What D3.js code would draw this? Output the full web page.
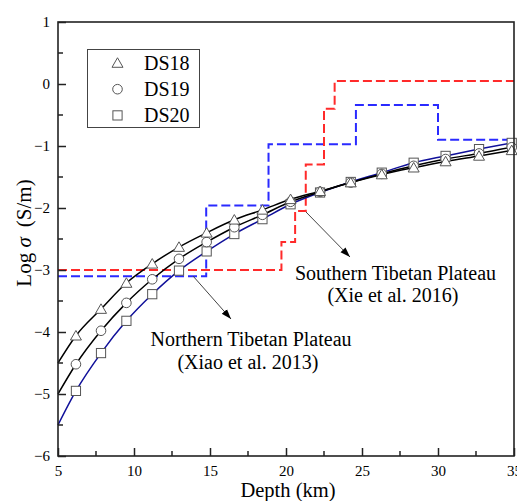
<!DOCTYPE html>
<html><head><meta charset="utf-8">
<script src="https://cdn.jsdelivr.net/npm/d3@7"></script>
<style>
html,body{margin:0;padding:0;background:#fff;}
svg{display:block;font-family:"Liberation Serif","Times New Roman",serif;}
</style></head>
<body>
<div id="chart"></div>
<script>
// ---- data ----
const depths = [5, 6.18, 7.83, 9.5, 11.2, 12.96, 14.78, 16.6, 18.45, 20.3, 22.24, 24.26, 26.3, 28.4, 30.5, 32.7, 34.85];
const ds18 = [-4.5, -4.06, -3.63, -3.21, -2.90, -2.63, -2.40, -2.19, -2.03, -1.86, -1.73, -1.59, -1.46, -1.35, -1.25, -1.16, -1.07];
const ds19 = [-5.0, -4.52, -3.98, -3.53, -3.15, -2.82, -2.55, -2.31, -2.11, -1.90, -1.74, -1.59, -1.45, -1.32, -1.21, -1.12, -1.02];
const ds20 = [-5.5, -4.95, -4.34, -3.82, -3.39, -3.01, -2.70, -2.42, -2.18, -1.94, -1.75, -1.58, -1.43, -1.27, -1.16, -1.05, -0.95];
const seriesNames = ["DS18", "DS19", "DS20"];
// Step profiles (depth where a layer starts, log conductivity)
const southDepth = [5, 19.7, 20.6, 21.3, 22.5, 23.2, 35];
const southValue = [-3.0, -2.55, -2.05, -1.3, -0.4, 0.05, 0.05];
const northDepth = [5, 14.75, 18.85, 24.6, 30.0, 35];
const northValue = [-3.1, -1.96, -0.97, -0.34, -0.9, -0.9];
const xTicks = [5, 10, 15, 20, 25, 30, 35];
const yTicks = [1, 0, -1, -2, -3, -4, -5, -6];

// ---- layout ----
const W = 517, H = 501;
const L = 58, R = 514, T = 22, B = 456;
const x = d3.scaleLinear().domain([5, 35]).range([L, R]);
const y = d3.scaleLinear().domain([-6, 1]).range([B, T]);

const svg = d3.select("#chart").append("svg").attr("width", W).attr("height", H);
const defs = svg.append("defs");
defs.append("marker").attr("id", "arr").attr("viewBox", "0 0 10 10")
  .attr("refX", 10).attr("refY", 5).attr("markerWidth", 10).attr("markerHeight", 10)
  .attr("markerUnits", "userSpaceOnUse").attr("orient", "auto")
  .append("path").attr("d", "M0,1.5 L10,5 L0,8.5 Z").attr("fill", "#000");

// step lines
function stepLine(dx, dy, color) {
  const pts = dx.map((d, i) => [d, dy[i]]);
  svg.append("path")
    .attr("d", d3.line().x(d => x(d[0])).y(d => y(d[1])).curve(d3.curveStepAfter)(pts))
    .attr("fill", "none").attr("stroke", color).attr("stroke-width", 2)
    .attr("stroke-dasharray", "9,4");
}
stepLine(northDepth, northValue, "#2a2aff");
stepLine(southDepth, southValue, "#ff2a2a");

// model curves
const data = [ds18, ds19, ds20];
const lineColors = ["#000", "#000", "#10109a"];
const lineGen = d3.line().x(d => x(d[0])).y(d => y(d[1])).curve(d3.curveMonotoneX);
[2, 1, 0].forEach(k => {
  const pts = depths.map((d, i) => [d, data[k][i]]);
  svg.append("path").attr("d", lineGen(pts)).attr("fill", "none")
    .attr("stroke", lineColors[k]).attr("stroke-width", 1.5);
});

// marker shapes
const mStroke = "#555";
function drawMarker(g, kind, cx, cy) {
  if (kind === 0) {
    const s = 11, h = s * Math.sqrt(3) / 2;
    g.append("path").attr("d", `M${cx},${cy - h * 0.55} L${cx + s / 2},${cy + h * 0.45} L${cx - s / 2},${cy + h * 0.45} Z`)
      .attr("fill", "#fff").attr("stroke", mStroke).attr("stroke-width", 1);
  } else if (kind === 1) {
    g.append("circle").attr("cx", cx).attr("cy", cy).attr("r", 4.8)
      .attr("fill", "#fff").attr("stroke", mStroke).attr("stroke-width", 1);
  } else {
    g.append("rect").attr("x", cx - 4.6).attr("y", cy - 4.6).attr("width", 9.2).attr("height", 9.2)
      .attr("fill", "#fff").attr("stroke", mStroke).attr("stroke-width", 1);
  }
}
const mg = svg.append("g");
[2, 1, 0].forEach(k => {
  depths.forEach((d, i) => { if (i > 0) drawMarker(mg, k, x(d), y(data[k][i])); });
});

// frame
svg.append("rect").attr("x", L).attr("y", T).attr("width", R - L).attr("height", B - T)
  .attr("fill", "none").attr("stroke", "#222").attr("stroke-width", 1.6);

// axes with inward ticks
const xAxis = d3.axisBottom(x).tickValues(xTicks).tickSize(-8).tickPadding(16).tickFormat(d3.format("d"));
const gx = svg.append("g").attr("transform", `translate(0,${B})`).call(xAxis);
const xMinor = d3.range(7.5, 35, 5);
gx.selectAll(".minor").data(xMinor).enter().append("line").attr("class", "minor")
  .attr("x1", d => x(d)).attr("x2", d => x(d)).attr("y1", 0).attr("y2", -5).attr("stroke", "#222").attr("stroke-width", 1.5);
const yAxis = d3.axisLeft(y).tickValues(yTicks).tickSize(-8).tickPadding(16).tickFormat(d3.format("d"));
const gy = svg.append("g").attr("transform", `translate(${L},0)`).call(yAxis);
const yMinor = d3.range(-5.5, 1, 1);
gy.selectAll(".minor").data(yMinor).enter().append("line").attr("class", "minor")
  .attr("y1", d => y(d)).attr("y2", d => y(d)).attr("x1", 0).attr("x2", 5).attr("stroke", "#222").attr("stroke-width", 1.5);
[gx, gy].forEach(g => {
  g.select(".domain").remove();
  g.selectAll(".tick line").attr("stroke", "#222").attr("stroke-width", 1.5);
  g.selectAll(".tick text").attr("font-family", "Liberation Serif, Times New Roman, serif")
    .attr("font-size", 15).attr("fill", "#000");
});
gx.selectAll(".tick text").attr("dy", "0.71em").attr("y", 9);
gy.selectAll(".tick text").attr("x", -8);

// axis titles
svg.append("text").attr("x", 288).attr("y", 497).attr("text-anchor", "middle")
  .attr("font-size", 20.5).text("Depth (km)");
const yt = svg.append("text").attr("transform", "translate(31,233) rotate(-90)")
  .attr("text-anchor", "middle").attr("font-size", 21);
yt.append("tspan").text("Log ");
yt.append("tspan").attr("font-style", "italic").text("σ");
yt.append("tspan").attr("dx", 10).text("(S/m)");

// legend
svg.append("rect").attr("x", 87.5).attr("y", 49.5).attr("width", 112).attr("height", 78)
  .attr("fill", "#fff").attr("stroke", "#444").attr("stroke-width", 1);
const lg = svg.append("g");
seriesNames.forEach((n, k) => {
  const cy = 63 + k * 26.2;
  drawMarker(lg, k, 117.5, cy);
  lg.append("text").attr("x", 144).attr("y", cy + 7).attr("font-size", 20).text(n);
});

// annotations
svg.append("line").attr("x1", 193).attr("y1", 276).attr("x2", 231).attr("y2", 319)
  .attr("stroke", "#444").attr("stroke-width", 1).attr("marker-end", "url(#arr)");
svg.append("line").attr("x1", 306).attr("y1", 212).attr("x2", 350).attr("y2", 257)
  .attr("stroke", "#444").attr("stroke-width", 1).attr("marker-end", "url(#arr)");
svg.append("text").attr("x", 395.5).attr("y", 279.5).attr("text-anchor", "middle").attr("font-size", 20).text("Southern Tibetan Plateau");
svg.append("text").attr("x", 393).attr("y", 302).attr("text-anchor", "middle").attr("font-size", 20).text("(Xie et al. 2016)");
svg.append("text").attr("x", 251).attr("y", 345.5).attr("text-anchor", "middle").attr("font-size", 20).text("Northern Tibetan Plateau");
svg.append("text").attr("x", 248).attr("y", 368.5).attr("text-anchor", "middle").attr("font-size", 20).text("(Xiao et al. 2013)");
</script>
</body></html>
